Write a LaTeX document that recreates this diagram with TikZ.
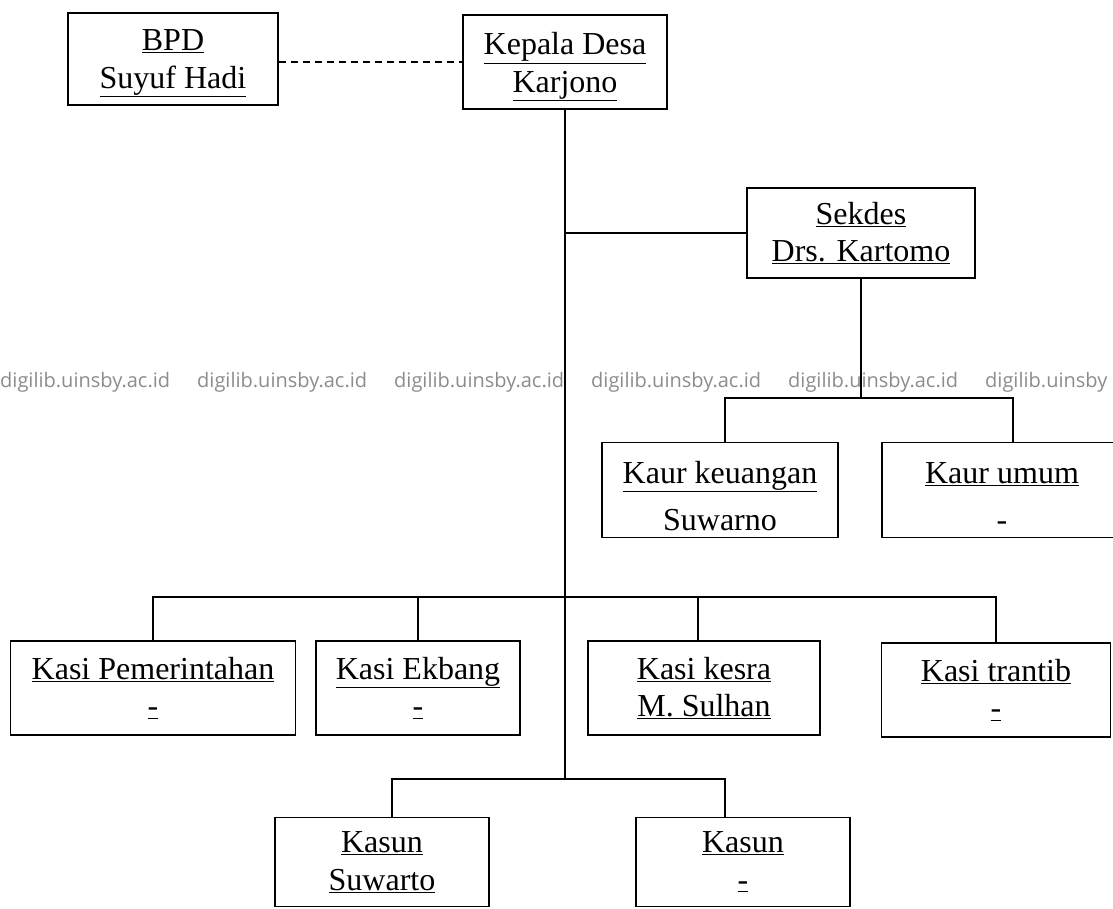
\documentclass[tikz,border=0pt]{standalone}
\usepackage{fontspec}
\setmainfont{Liberation Serif}
\newfontfamily\wmfont{Open Sans}
\newcommand{\ganjal}[1]{\rule{0pt}{#1}}
\begin{document}
\begin{tikzpicture}[x=1pt,y=-1pt,
		jabatan/.style={draw, line width=1.6pt, align=center, inner sep=0pt,
			font=\fontsize{32}{37.5}\selectfont},
		garis/.style={line width=1.8pt}]
	\useasboundingbox (0,0) rectangle (1113,908);
	% watermark
	\foreach \i in {0,...,4}
		\node[anchor=base west, inner sep=0pt, text=black!45, font=\wmfont\fontsize{20}{22}\selectfont] (wm\i) at (\i*197,387) {digilib.uinsby.ac.id};
	\node[anchor=base west, inner sep=0pt, text=black!45, font=\wmfont\fontsize{20}{22}\selectfont] (wm5) at (985,387) {digilib.uinsby};
	% kepala desa dan BPD
	\node[jabatan, minimum width=210pt, minimum height=92pt] (bpd) at (173,59) {\ganjal{30pt}\underline{BPD}\\\underline{Suyuf Hadi}};
	\node[jabatan, minimum width=204pt, minimum height=94pt] (kades) at (565,62) {\ganjal{32pt}\underline{Kepala Desa}\\\underline{Karjono}};
	\draw[garis, dash pattern=on 7pt off 5pt] (bpd.east |- 0,62) -- (kades.west |- 0,62);
	% sekdes dan kaur
	\node[jabatan, minimum width=228pt, minimum height=90pt] (sekdes) at (861,233) {\underline{Sekdes}\\\underline{Drs. Kartomo}};
	\node[jabatan, minimum width=236pt, minimum height=95pt] (keu) at (720,490) {\ganjal{34pt}\underline{Kaur keuangan}\\[10pt]Suwarno};
	\node[jabatan, minimum width=240pt, minimum height=95pt] (umum) at (1002,490) {\ganjal{34pt}\underline{Kaur umum}\\[10pt]-};
	% kasi
	\node[jabatan, minimum width=285pt, minimum height=94pt] (pem) at (153,688) {\underline{Kasi Pemerintahan}\\\underline{-}};
	\node[jabatan, minimum width=204pt, minimum height=94pt] (ekbang) at (418,688) {\underline{Kasi Ekbang}\\\underline{-}};
	\node[jabatan, minimum width=232pt, minimum height=94pt] (kesra) at (704,688) {\underline{Kasi kesra}\\\underline{M. Sulhan}};
	\node[jabatan, minimum width=229pt, minimum height=94pt] (trantib) at (996,690) {\underline{Kasi trantib}\\\underline{-}};
	% kasun
	\node[jabatan, minimum width=214pt, minimum height=89pt] (kasuna) at (382,862) {\underline{Kasun}\\\underline{Suwarto}};
	\node[jabatan, minimum width=214pt, minimum height=89pt] (kasunb) at (743,862) {\underline{Kasun}\\\underline{-}};
	% garis komando
	\coordinate (spine) at (565,779);
	\coordinate (kaurbus) at (0,398);
	\coordinate (kasibus) at (0,597);
	\coordinate (keujoint) at (725,398);
	\coordinate (umumjoint) at (1013,398);
	\coordinate (kesrajoint) at (698,597);
	\coordinate (kasunajoint) at (392,779);
	\coordinate (kasunbjoint) at (725,779);
	\draw[garis] (kades.south) -- (spine);
	\draw[garis] (spine |- sekdes.west) -- (sekdes.west);
	\draw[garis] (sekdes.south) -- (sekdes.south |- kaurbus);
	\draw[garis] (keujoint |- keu.north) -- (keujoint) -- (umumjoint) -- (umumjoint |- umum.north);
	\draw[garis] (pem.north) |- (trantib.north |- kasibus) -- (trantib.north);
	\draw[garis] (ekbang.north) -- (ekbang.north |- kasibus);
	\draw[garis] (kesrajoint |- kesra.north) -- (kesrajoint);
	\draw[garis] (kasunajoint |- kasuna.north) -- (kasunajoint) -- (kasunbjoint) -- (kasunbjoint |- kasunb.north);
\end{tikzpicture}
\end{document}
